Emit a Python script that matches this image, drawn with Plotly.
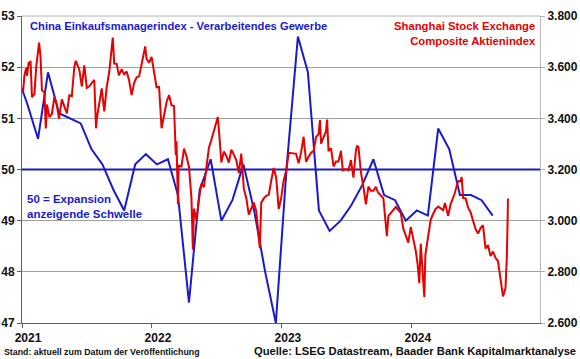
import plotly.graph_objects as go

# ---------------- data ----------------
pmi_months = ["2020-12-15",
    "2021-01-15","2021-02-15","2021-03-15","2021-04-15","2021-05-15","2021-06-15",
    "2021-07-15","2021-08-15","2021-09-15","2021-10-15","2021-11-15","2021-12-15",
    "2022-01-15","2022-02-15","2022-03-15","2022-04-15","2022-05-15","2022-06-15",
    "2022-07-15","2022-08-15","2022-09-15","2022-10-15","2022-11-15","2022-12-15",
    "2023-01-15","2023-02-15","2023-03-15","2023-04-15","2023-05-15","2023-06-15",
    "2023-07-15","2023-08-15","2023-09-15","2023-10-15","2023-11-15","2023-12-15",
    "2024-01-15","2024-02-15","2024-03-15","2024-04-15","2024-05-15","2024-06-15",
    "2024-07-15","2024-08-15"]
pmi_values = [51.9,
    51.3, 50.6, 51.9, 51.1, 51.0, 50.9, 50.4, 50.1, 49.6, 49.2, 50.1, 50.3,
    50.1, 50.2, 49.5, 47.4, 49.6, 50.2, 49.0, 49.4, 50.1, 49.2, 48.0, 47.0,
    50.1, 52.6, 51.9, 49.2, 48.8, 49.0, 49.3, 49.7, 50.2, 49.5, 49.4, 49.0,
    49.2, 49.1, 50.8, 50.4, 49.5, 49.5, 49.4, 49.1]

ssec_dates = [
    "2021-01-04","2021-01-08","2021-01-13","2021-01-15","2021-01-20","2021-01-22","2021-01-25",
    "2021-01-28","2021-01-29","2021-02-05","2021-02-10","2021-02-18","2021-02-22","2021-02-26",
    "2021-03-05","2021-03-09","2021-03-12","2021-03-19","2021-03-26","2021-04-02","2021-04-09",
    "2021-04-15","2021-04-23","2021-04-30","2021-05-07","2021-05-14","2021-05-21","2021-05-28",
    "2021-06-01","2021-06-11","2021-06-18","2021-06-25","2021-07-02","2021-07-09","2021-07-16",
    "2021-07-23","2021-07-28","2021-07-30","2021-08-06","2021-08-13","2021-08-20","2021-08-27",
    "2021-09-03","2021-09-13","2021-09-17","2021-09-24","2021-09-30","2021-10-08","2021-10-15",
    "2021-10-22","2021-10-29","2021-11-05","2021-11-12","2021-11-19","2021-11-26","2021-12-03",
    "2021-12-13","2021-12-17","2021-12-24","2021-12-31",
    "2022-01-07","2022-01-14","2022-01-21","2022-01-28","2022-02-11","2022-02-18","2022-02-25",
    "2022-03-04","2022-03-09","2022-03-11","2022-03-15","2022-03-17","2022-03-25","2022-04-01",
    "2022-04-08","2022-04-15","2022-04-22","2022-04-26","2022-04-29","2022-05-06","2022-05-13",
    "2022-05-20","2022-05-27","2022-06-02","2022-06-10","2022-06-17","2022-06-24","2022-07-01",
    "2022-07-05","2022-07-08","2022-07-15","2022-07-22","2022-07-29","2022-08-05","2022-08-12",
    "2022-08-19","2022-08-26","2022-09-02","2022-09-09","2022-09-16","2022-09-23","2022-09-30",
    "2022-10-14","2022-10-21","2022-10-28","2022-10-31","2022-11-04","2022-11-11","2022-11-18",
    "2022-11-25","2022-12-02","2022-12-09","2022-12-16","2022-12-23","2022-12-30",
    "2023-01-06","2023-01-13","2023-01-20","2023-02-03","2023-02-10","2023-02-17","2023-02-24",
    "2023-03-03","2023-03-10","2023-03-17","2023-03-24","2023-03-31","2023-04-07","2023-04-14",
    "2023-04-18","2023-04-21","2023-04-28","2023-05-05","2023-05-08","2023-05-12","2023-05-19",
    "2023-05-26","2023-06-02","2023-06-09","2023-06-16","2023-06-21","2023-06-30","2023-07-07",
    "2023-07-14","2023-07-21","2023-07-28","2023-07-31","2023-08-04","2023-08-11","2023-08-18",
    "2023-08-25","2023-09-01","2023-09-08","2023-09-15","2023-09-22","2023-09-28","2023-10-13",
    "2023-10-20","2023-10-23","2023-10-27","2023-11-03","2023-11-10","2023-11-17","2023-11-24",
    "2023-12-01","2023-12-08","2023-12-15","2023-12-22","2023-12-29",
    "2024-01-05","2024-01-12","2024-01-17","2024-01-22","2024-01-26","2024-02-02","2024-02-05",
    "2024-02-08","2024-02-23","2024-03-01","2024-03-08","2024-03-15","2024-03-22","2024-03-29",
    "2024-04-03","2024-04-12","2024-04-19","2024-04-26","2024-04-30","2024-05-10","2024-05-17",
    "2024-05-20","2024-05-24","2024-05-31","2024-06-07","2024-06-14","2024-06-21","2024-06-28",
    "2024-07-05","2024-07-12","2024-07-19","2024-07-26","2024-08-02","2024-08-09","2024-08-16",
    "2024-08-23","2024-08-30","2024-09-06","2024-09-13","2024-09-20","2024-09-24","2024-09-26",
    "2024-09-27"]
ssec_values = [
    3503, 3570, 3598, 3566, 3621, 3607, 3625,
    3506, 3483, 3496, 3603, 3696, 3642, 3509,
    3502, 3360, 3454, 3405, 3418, 3484, 3451,
    3399, 3474, 3447, 3419, 3490, 3487, 3601,
    3625, 3590, 3525, 3607, 3519, 3525, 3539,
    3550, 3361, 3397, 3458, 3517, 3427, 3522,
    3581, 3716, 3614, 3613, 3568, 3592, 3572,
    3583, 3547, 3491, 3539, 3560, 3564, 3607,
    3681, 3632, 3618, 3640,
    3580, 3521, 3523, 3361, 3463, 3491, 3451,
    3448, 3256, 3310, 3064, 3215, 3212, 3282,
    3252, 3211, 3087, 2886, 3047, 3002, 3084,
    3146, 3131, 3195, 3285, 3316, 3350, 3388,
    3405, 3356, 3228, 3270, 3253, 3227, 3277,
    3258, 3236, 3186, 3262, 3126, 3088, 3024,
    3071, 3038, 2916, 2893, 3070, 3087, 3097,
    3101, 3156, 3206, 3168, 3045, 3089,
    3157, 3195, 3265, 3263, 3261, 3224, 3267,
    3328, 3230, 3250, 3266, 3273, 3327, 3338,
    3393, 3301, 3323, 3350, 3395, 3272, 3284,
    3212, 3231, 3231, 3273, 3197, 3202, 3197,
    3237, 3168, 3276, 3291, 3288, 3189, 3132,
    3064, 3133, 3117, 3117, 3132, 3110, 3088,
    2983, 2939, 3018, 3030, 3039, 3054, 3041,
    3031, 2969, 2942, 2914, 2975,
    2929, 2882, 2833, 2756, 2910, 2730, 2702,
    2866, 3004, 3027, 3046, 3055, 3048, 3041,
    3069, 3019, 3065, 3088, 3105, 3155, 3154,
    3171, 3089, 3087, 3051, 3033, 2998, 2967,
    2950, 2971, 2982, 2891, 2905, 2862, 2879,
    2855, 2842, 2765, 2704, 2736, 2863, 3000,
    3087]

x_range = ["2021-01-01", "2024-12-26"]
year_ticks = ["2021-01-01", "2022-01-01", "2023-01-01", "2024-01-01"]
year_labels = ["2021", "2022", "2023", "2024"]
left_ticks = [47, 48, 49, 50, 51, 52, 53]
left_labels = ["47", "48", "49", "50", "51", "52", "53"]
right_ticks = [2600, 2800, 3000, 3200, 3400, 3600, 3800]
right_labels = ["2.600", "2.800", "3.000", "3.200", "3.400", "3.600", "3.800"]
threshold = 50

# ---------------- styling ----------------
BLUE = "#1a1acc"
RED = "#e60000"
FONT = "Liberation Sans"
TXT = "#111111"

fig = go.Figure()
# 50 threshold line across the full width
fig.add_trace(go.Scatter(x=x_range, y=[threshold, threshold], mode="lines",
                         line=dict(color=BLUE, width=2), yaxis="y",
                         hoverinfo="skip", showlegend=False))
fig.add_trace(go.Scatter(x=pmi_months, y=pmi_values, mode="lines",
                         line=dict(color=BLUE, width=2), yaxis="y",
                         hoverinfo="skip", showlegend=False))
fig.add_trace(go.Scatter(x=ssec_dates, y=ssec_values, mode="lines",
                         line=dict(color=RED, width=2), yaxis="y2",
                         hoverinfo="skip", showlegend=False))

fig.update_layout(
    template="none",
    width=580, height=359,
    margin=dict(l=22, r=40, t=16, b=36, pad=0, autoexpand=False),
    paper_bgcolor="white", plot_bgcolor="white",
    font=dict(family=FONT, color=TXT),
    xaxis=dict(type="date", range=x_range, automargin=False,
               tickvals=year_ticks, ticktext=["<b>%s</b>" % t for t in year_labels],
               ticks="outside", ticklen=4, tickcolor="#606060",
               tickfont=dict(size=12, family=FONT, color=TXT),
               ticklabelshift=6,
               showline=True, linecolor="#606060", linewidth=1,
               showgrid=False, zeroline=False),
    yaxis=dict(range=[47, 53], tickvals=left_ticks, automargin=False,
               ticktext=["<b>%s</b>" % t for t in left_labels],
               ticks="outside", ticklen=4, tickcolor="#606060",
               tickfont=dict(size=12, family=FONT, color=TXT),
               showline=True, linecolor="#606060", linewidth=1,
               showgrid=True, gridcolor="#a0a0a0", gridwidth=1, zeroline=False),
    yaxis2=dict(range=[2600, 3800], overlaying="y", side="right", automargin=False,
                tickvals=right_ticks, ticktext=["<b>%s</b>" % t for t in right_labels],
                ticks="outside", ticklen=4, tickcolor="#b0b0b0",
                tickfont=dict(size=12, family=FONT, color=TXT),
                showline=True, linecolor="#b8b8b8", linewidth=1,
                showgrid=False, zeroline=False),
)

# top border
fig.add_shape(type="line", xref="paper", yref="paper", x0=0, x1=1, y0=1, y1=1,
              line=dict(color="#b0b0b0", width=1))

W, H, L, T = 518.0, 307.0, 22.0, 16.0
def px(x):
    return (x - L) / W
def py(y):
    return (T + H - y) / H

fig.add_annotation(x=px(28), y=py(26), xref="paper", yref="paper", xanchor="left", yanchor="middle",
                   text="<b>China Einkaufsmanagerindex - Verarbeitendes Gewerbe</b>",
                   showarrow=False, font=dict(size=11.2, color=BLUE, family=FONT))
fig.add_annotation(x=px(538), y=py(33), xref="paper", yref="paper", xanchor="right", yanchor="middle",
                   align="right",
                   text="<b>Shanghai Stock Exchange<br>Composite Aktienindex</b>",
                   showarrow=False, font=dict(size=11.3, color=RED, family=FONT))
fig.add_annotation(x=px(25), y=py(206), xref="paper", yref="paper", xanchor="left", yanchor="middle",
                   align="left",
                   text="<b>50 = Expansion<br>anzeigende Schwelle</b>",
                   showarrow=False, font=dict(size=11.5, color=BLUE, family=FONT))
fig.add_annotation(x=px(2), y=py(351.5), xref="paper", yref="paper", xanchor="left", yanchor="middle",
                   text="<b>Stand: aktuell zum Datum der Veröffentlichung</b>",
                   showarrow=False, font=dict(size=8.8, color=TXT, family=FONT))
fig.add_annotation(x=px(578), y=py(351), xref="paper", yref="paper", xanchor="right", yanchor="middle",
                   text="<b>Quelle: LSEG Datastream, Baader Bank Kapitalmarktanalyse</b>",
                   showarrow=False, font=dict(size=11.2, color=TXT, family=FONT))

fig.write_html("out.html", config={"displayModeBar": False},
               post_script="document.body.style.margin='0';")
